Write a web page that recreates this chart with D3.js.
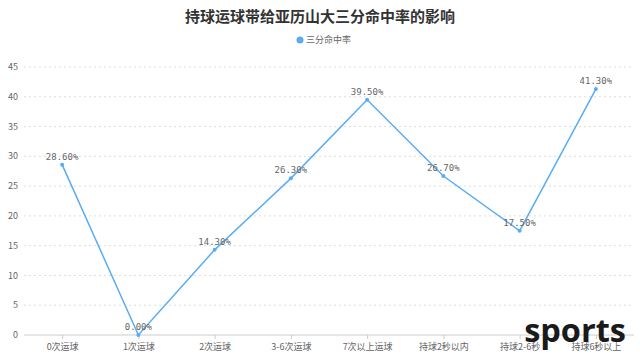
<!DOCTYPE html>
<html>
<head>
<meta charset="utf-8">
<script src="https://cdn.jsdelivr.net/npm/d3@7"></script>
<style>
  body { margin: 0; background: #fff; }
  svg { display: block; font-family: "Noto Sans CJK SC", "Noto Sans", sans-serif; }
</style>
</head>
<body>
<script>
// data
var categories = ["0次运球", "1次运球", "2次运球", "3-6次运球", "7次以上运球", "持球2秒以内", "持球2-6秒", "持球6秒以上"]
var rates = [28.6, 0, 14.3, 26.3, 39.5, 26.7, 17.5, 41.3]
var yTicks = [0, 5, 10, 15, 20, 25, 30, 35, 40, 45]
var seriesName = "三分命中率"
var title = "持球运球带给亚历山大三分命中率的影响"

var width = 640
var height = 362
var margin = { top: 67, bottom: 27, left: 24, right: 6 }

var svg = d3.select("body")
  .append("svg")
  .attr("width", width)
  .attr("height", height)

var escalaX = d3.scalePoint()
  .domain(categories)
  .range([margin.left, width - margin.right])
  .padding(0.5)

var escalaY = d3.scaleLinear()
  .domain([0, 45])
  .range([height - margin.bottom, margin.top])

// grid
svg.append("g")
  .selectAll("line")
  .data(yTicks.filter(d => d > 0))
  .enter()
  .append("line")
    .attr("x1", margin.left)
    .attr("x2", width - margin.right)
    .attr("y1", d => escalaY(d))
    .attr("y2", d => escalaY(d))
    .attr("stroke", "#ddd")
    .attr("stroke-dasharray", "2,3")

// y labels
svg.append("g")
  .selectAll("text")
  .data(yTicks)
  .enter()
  .append("text")
    .attr("x", margin.left - 6)
    .attr("y", d => escalaY(d))
    .attr("dy", "0.35em")
    .attr("text-anchor", "end")
    .attr("font-size", 9)
    .attr("fill", "#666")
    .text(d => d)

// x axis
var ejeX = d3.axisBottom(escalaX).tickSize(4).tickSizeOuter(0)
var gx = svg.append("g")
  .attr("transform", "translate(0," + escalaY(0) + ")")
  .call(ejeX)
gx.select(".domain").attr("stroke", "#ccc").attr("d", "M" + margin.left + ",0H" + (width - margin.right))
gx.selectAll(".tick line").attr("stroke", "#ccc")
gx.selectAll(".tick text")
  .attr("font-size", 9)
  .attr("fill", "#666")
  .attr("dy", "0.9em")
  .style("font-family", "\"Noto Sans CJK SC\", sans-serif")

// line
var datos = categories.map((c, i) => ({ cat: c, v: rates[i] }))
svg.append("path")
  .datum(datos)
  .attr("fill", "none")
  .attr("stroke", "#5aacf2")
  .attr("stroke-width", 1.5)
  .attr("d", d3.line()
    .x(d => escalaX(d.cat))
    .y(d => escalaY(d.v)))

svg.append("g")
  .selectAll("circle")
  .data(datos)
  .enter()
  .append("circle")
    .attr("cx", d => escalaX(d.cat))
    .attr("cy", d => escalaY(d.v))
    .attr("r", 2)
    .attr("fill", "#5aacf2")

svg.append("g")
  .selectAll("text")
  .data(datos)
  .enter()
  .append("text")
    .attr("x", d => escalaX(d.cat))
    .attr("y", d => escalaY(d.v) - 5)
    .attr("text-anchor", "middle")
    .attr("font-size", 9)
    .attr("fill", "#666")
    .style("font-family", "\"DejaVu Sans Mono\", monospace")
    .text(d => d.v.toFixed(2) + "%")

// title
svg.append("text")
  .attr("x", width / 2)
  .attr("y", 22)
  .attr("text-anchor", "middle")
  .attr("font-size", 15)
  .attr("font-weight", "bold")
  .attr("fill", "#333")
  .text(title)

// legend
svg.append("circle")
  .attr("cx", 300)
  .attr("cy", 40)
  .attr("r", 3.5)
  .attr("fill", "#5aacf2")
svg.append("text")
  .attr("x", 306)
  .attr("y", 40)
  .attr("dy", "0.35em")
  .attr("font-size", 9)
  .attr("fill", "#666")
  .text(seriesName)

// watermark
svg.append("text")
  .attr("x", 626)
  .attr("y", 342)
  .attr("text-anchor", "end")
  .attr("font-size", 32.5)
  .attr("font-weight", "bold")
  .attr("fill", "#1a1a1a")
  .style("font-family", "\"Open Sans\", \"Noto Sans\", sans-serif")
  .text("sports")
</script>
</body>
</html>
